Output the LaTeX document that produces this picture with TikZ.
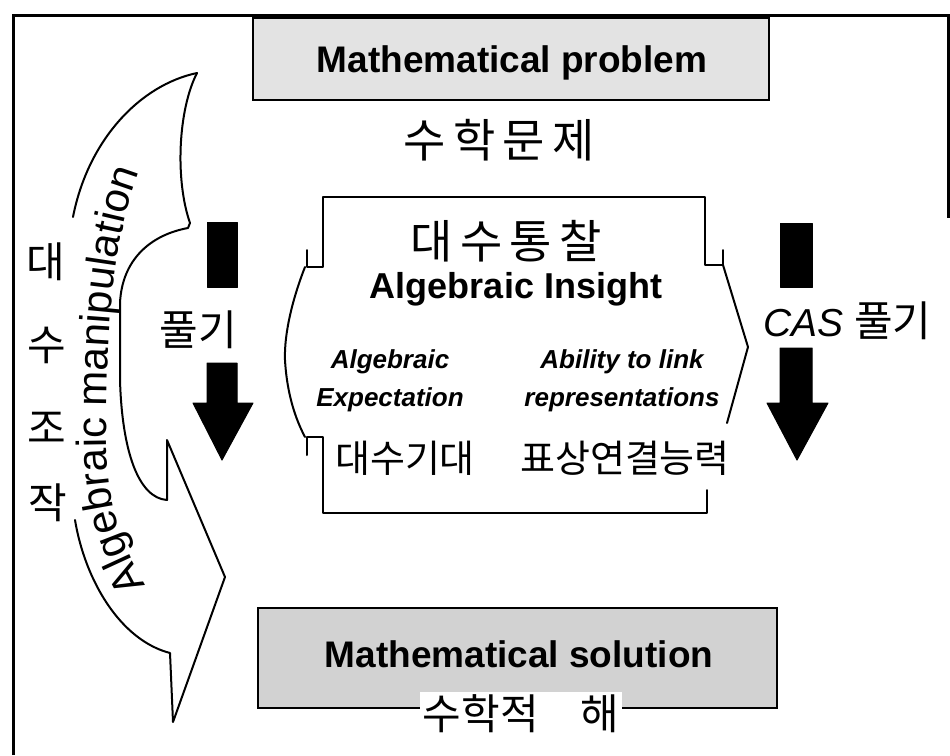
\documentclass[tikz,border=0pt]{standalone}
\usepackage{fontspec}
\setmainfont{Liberation Sans}
\newfontfamily\kr{Noto Sans CJK KR}
\newfontfamily\krwide{Noto Sans CJK KR}[LetterSpace=16]
\usetikzlibrary{decorations.text}
\tikzset{
  lbl/.style={inner sep=0pt, align=center},
  krtxt/.style={lbl, font=\kr\fontsize{#1}{#1}\selectfont},
  krwtxt/.style={lbl, font=\krwide\fontsize{#1}{#1}\selectfont},
  entxt/.style={lbl, font=\fontsize{#1}{#1}\selectfont\bfseries},
  boxs/.style={draw, line width=2.6pt},
  outline/.style={line width=2pt, line join=round, line cap=round},
  blk/.style={fill=black, draw=black, line width=1pt, line join=round},
  frame/.style={line width=3pt}
}
\begin{document}
\begin{tikzpicture}[x=1pt,y=-1pt]
\useasboundingbox (0,0) rectangle (950,755);
\fill[white] (0,0) rectangle (950,755);
% frame
\draw[frame] (13,755) -- (13,15) -- (948,15) -- (948,218);
% top / bottom boxes
\draw[boxs, fill=gray!22] (253,18) rectangle (769,100);
\node[entxt=37, anchor=base] (prob) at (512,72) {Mathematical problem};
\node[krwtxt=46] (probkr) at (499,140) {수학문제};
\draw[boxs, fill=gray!35] (258,608) rectangle (777,708);
\node[entxt=37, anchor=base] (sol) at (519,667) {Mathematical solution};
\node[krtxt=42, fill=white, inner sep=3pt] (solkr) at (521,714) {수학적\quad 해};
% central insight shape
\draw[outline] (307,250) -- (307,267) -- (323,267) -- (323,197) -- (705,197) -- (705,265) -- (723,265) -- (723,250);
\draw[outline] (723,265) -- (748,347) -- (727,423);
\draw[outline] (305,267) .. controls (292,300) and (284,335) .. (285,360) .. controls (287,395) and (296,420) .. (305,437);
\draw[outline] (307,455) -- (307,437) -- (323,437) -- (323,513) -- (707,513) -- (707,490);
\node[krwtxt=46] (insightkr) at (506,241) {대수통찰};
\node[entxt=36, anchor=base] (insight) at (516,298) {Algebraic Insight};
\node[lbl, font=\fontsize{26}{38}\selectfont\bfseries\itshape] (expect) at (390,381) {Algebraic\\Expectation};
\node[lbl, font=\fontsize{26}{38}\selectfont\bfseries\itshape] (link) at (622,381) {Ability to link\\representations};
\node[krtxt=38] (expectkr) at (405,458) {대수기대};
\node[krtxt=38] (linkkr) at (625,458) {표상연결능력};
% black arrows
\fill[blk] (207,222) rectangle (237,287);
\draw[blk] (207,363) -- (237,363) -- (237,403) -- (253,403) -- (222,460) -- (193,403) -- (207,403) -- cycle;
\node[krtxt=42] (solve) at (198,330) {풀기};
\fill[blk] (780,223) rectangle (812,287);
\draw[blk] (780,348) -- (812,348) -- (812,403) -- (828,403) -- (797,460) -- (767,403) -- (780,403) -- cycle;
\node[lbl, anchor=west] (cas) at (763,321) {\fontsize{39}{39}\selectfont\itshape CAS\ {\kr\fontsize{42}{42}\selectfont 풀기}};
% left vertical Korean
\node[krtxt=42] (v1) at (46,262) {대};
\node[krtxt=42] (v2) at (47,345) {수};
\node[krtxt=42] (v3) at (47,428) {조};
\node[krtxt=42] (v4) at (48,503) {작};
% curved manipulation arrow
\draw[outline] (197,73) .. controls (140,85) and (88,140) .. (73,217);
\draw[outline] (197,73) .. controls (178,110) and (175,180) .. (190,223) -- (188,228)
  .. controls (150,235) and (122,260) .. (120,303) -- (120,380)
  .. controls (122,450) and (138,498) .. (167,500) -- (167,440) -- (225,577) -- (173,722) -- (170,653)
  .. controls (120,640) and (85,580) .. (75,520);
\path[decorate, decoration={text along path, text align=center,
  text={|\fontsize{42}{42}\selectfont|Algebraic manipulation}}]
  (152,596) .. controls (104,520) and (106,470) .. (107,400) .. controls (108,320) and (114,230) .. (144,160);
\end{tikzpicture}
\end{document}
